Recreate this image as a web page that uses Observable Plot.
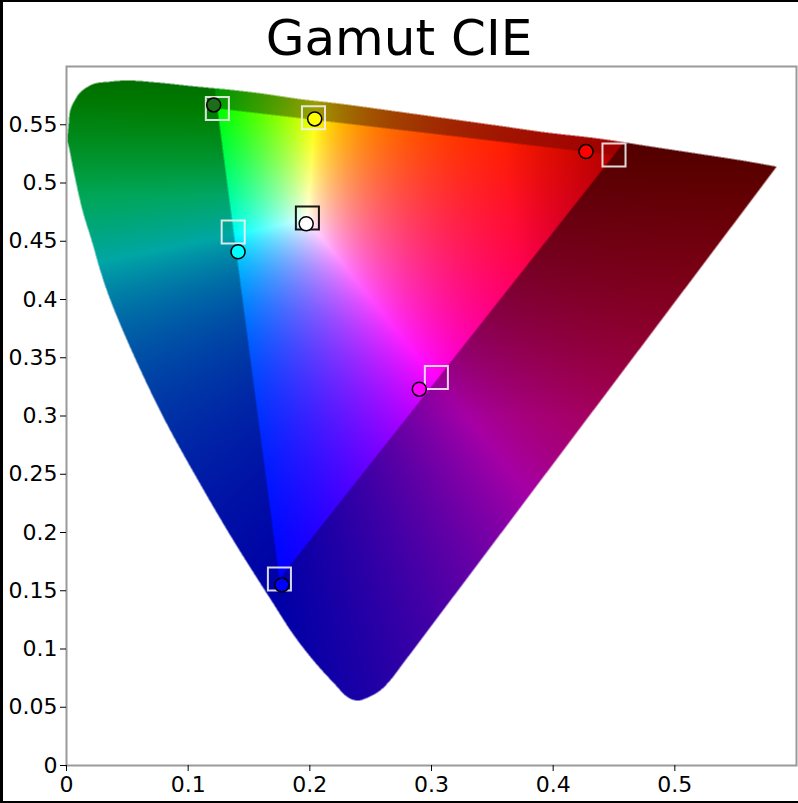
<!DOCTYPE html>
<html><head><meta charset="utf-8">
<script src="https://cdn.jsdelivr.net/npm/d3@7"></script>
<script src="https://cdn.jsdelivr.net/npm/@observablehq/plot@0.6"></script>
<style>
body{margin:0;background:#fff;}
#wrap{position:relative;width:798px;height:803px;overflow:hidden;font-family:"DejaVu Sans",Verdana,sans-serif;background:#fff;}
#title{position:absolute;left:0;top:10px;width:798px;text-align:center;font-size:50px;line-height:56px;color:#000;}
#chart{position:absolute;left:0;top:60px;}
#border{position:absolute;left:0;top:0;width:798px;height:803px;box-sizing:border-box;border-left:3px solid #000;border-top:2px solid #000;border-bottom:2px solid #000;pointer-events:none;}
</style></head><body>
<div id="wrap"><div id="title">Gamut CIE</div><div id="chart"></div><div id="border"></div></div>
<script>
// Outline of the chromaticity diagram (u', v'),
// from the bottom of the straight purple edge, round the bottom, up the left side, over the top to the right tip
const locusU = [0.2742,0.2660,0.2578,0.2496,0.2397,0.2315,0.2192,0.2036,0.1864,0.1683,0.1593,0.1371,0.1100,0.0796,0.0534,0.0361,0.0279,0.0213,0.0131,0.0057,0.0025,0.0008,0.0016,0.0033,0.0074,0.0115,0.0222,0.0361,0.0501,0.0772,0.1043,0.1346,0.1593,0.1921,0.2250,0.2742,0.3153,0.3563,0.3933,0.4384,0.4795,0.5205,0.5575,0.5837];
const locusV = [0.0842,0.0730,0.0644,0.0593,0.0558,0.0584,0.0713,0.0893,0.1125,0.1418,0.1564,0.1933,0.2414,0.2990,0.3565,0.3995,0.4244,0.4485,0.4768,0.5112,0.5284,0.5369,0.548,0.563,0.572,0.578,0.585,0.587,0.588,0.586,0.583,0.580,0.577,0.572,0.568,0.561,0.555,0.549,0.5435,0.538,0.5314,0.5249,0.5189,0.514];

// Patches: target (squares) and measured (circles)
const patchNames = ["green","yellow","red","cyan","white","magenta","blue"];
const targetU = [0.124,0.203,0.450,0.137,0.198,0.304,0.175];
const targetV = [0.564,0.556,0.524,0.458,0.470,0.333,0.160];
const targetStroke = ["#f0f0f0","#f0f0f0","#f0f0f0","#f0f0f0","#000000","#f0f0f0","#f0f0f0"];
const measuredU = [0.121,0.204,0.427,0.141,0.197,0.290,0.177];
const measuredV = [0.567,0.555,0.527,0.441,0.465,0.323,0.155];
const measuredFill = ["#1e6b1e","#ffff00","#ff0000","#00ffff","#ffffff","#ff00ff","#0000ff"];

// Axes
const xTicks = [0,0.1,0.2,0.3,0.4,0.5];
const xTickLabels = ["0","0.1","0.2","0.3","0.4","0.5"];
const yTicks = [0,0.05,0.1,0.15,0.2,0.25,0.3,0.35,0.4,0.45,0.5,0.55];
const yTickLabels = ["0","0.05","0.1","0.15","0.2","0.25","0.3","0.35","0.4","0.45","0.5","0.55"];

const targets = patchNames.map((n,i)=>({name:n,u:targetU[i],v:targetV[i],stroke:targetStroke[i]}));
const measured = patchNames.map((n,i)=>({name:n,u:measuredU[i],v:measuredV[i],fill:measuredFill[i]}));

// Smooth outline (Catmull-Rom curve through the read points; the closing purple edge is straight)
const outline = [];
(function(){
  let cx=0, cy=0;
  const ctx = {
    moveTo(x,y){outline.push([x,y]);cx=x;cy=y;},
    lineTo(x,y){outline.push([x,y]);cx=x;cy=y;},
    bezierCurveTo(x1,y1,x2,y2,x,y){
      for(let k=1;k<=12;k++){const t=k/12,s=1-t;
        outline.push([s*s*s*cx+3*s*s*t*x1+3*s*t*t*x2+t*t*t*x, s*s*s*cy+3*s*s*t*y1+3*s*t*t*y2+t*t*t*y]);}
      cx=x;cy=y;},
    closePath(){}
  };
  d3.line().x(d=>d[0]).y(d=>d[1]).curve(d3.curveCatmullRom.alpha(0.5)).context(ctx)(locusU.map((u,i)=>[u,locusV[i]]));
})();
let cacheV=NaN, cacheX=[];
function insideLocus(u,v){
  if(v!==cacheV){
    cacheV=v; cacheX=[];
    const n=outline.length;
    for(let i=0,j=n-1;i<n;j=i++){
      const a=outline[j], b=outline[i];
      if((a[1]>v)!==(b[1]>v)) cacheX.push(a[0]+(v-a[1])*(b[0]-a[0])/(b[1]-a[1]));
    }
  }
  let c=0; for(const xx of cacheX) if(xx<u) c++;
  return c%2===1;
}

const PR=[targetU[2],targetV[2]], PG=[targetU[0],targetV[0]], PB=[targetU[6],targetV[6]];
function side(a,b,p){return (b[0]-a[0])*(p[1]-a[1])-(b[1]-a[1])*(p[0]-a[0]);}
const triArea = side(PG,PB,PR);
function colorAt(u,v){
  if(!insideLocus(u,v)) return "white";
  const d=6*u-16*v+12, x=9*u/d, y=4*v/d;
  const X=x/y, Y=1, Z=(1-x-y)/y;
  let r=Math.max(0,3.2406*X-1.5372*Y-0.4986*Z);
  let g=Math.max(0,-0.9689*X+1.8758*Y+0.0415*Z);
  let b=Math.max(0,0.0557*X-0.2040*Y+1.0570*Z);
  const m=Math.max(r,g,b)||1; r/=m; g/=m; b/=m;
  let f=1;
  const p=[u,v];
  const sTop=side(PR,PG,p), sLeft=side(PG,PB,p), sRight=side(PB,PR,p);
  if(sTop<0||sLeft<0||sRight<0){
    if(sTop<0) f=Math.min(f,0.63-2.0*Math.max(0,v-0.56));
    if(sLeft<0) f=Math.min(f,0.65-2.2*Math.max(0,v-0.49));
    if(sRight<0) f=Math.min(f,0.65-1.4*Math.max(0,v-0.3));
  } else {
    const wR = sLeft/triArea; // barycentric weight of the red vertex
    f = 1 - 0.3*Math.max(0,Math.min(1,(wR-0.72)/0.28));
  }
  const R=Math.round(255*r*f), G=Math.round(255*g*f), B=Math.round(255*b*f);
  return `rgb(${R},${G},${B})`;
}

const chart = Plot.plot({
  width:798, height:743,
  marginLeft:66, marginRight:2, marginTop:6, marginBottom:38,
  x:{domain:[0,0.6], axis:null},
  y:{domain:[0,0.6], axis:null},
  color:{type:"identity"},
  style:{fontFamily:"DejaVu Sans, Verdana, sans-serif", fontSize:"22px", background:"white", color:"black", overflow:"visible"},
  marks:[
    Plot.raster({x1:0,y1:0,x2:0.6,y2:0.6, fill:colorAt, pixelSize:0.5, imageRendering:"auto"}),
    Plot.dot(targets,{x:"u",y:"v",symbol:"square",r:13,stroke:"stroke",strokeWidth:2,strokeOpacity:0.9,fill:"none"}),
    Plot.dot(measured,{x:"u",y:"v",r:7,fill:"fill",stroke:"black",strokeWidth:1.5}),
    Plot.frame({stroke:"#9a9a9a",strokeWidth:2}),
    Plot.axisX(xTicks,{label:null,tickSize:6,tickPadding:5,fontSize:22,tickFormat:d=>xTickLabels[xTicks.indexOf(d)]}),
    Plot.axisY(yTicks,{label:null,tickSize:6,tickPadding:3,fontSize:22,tickFormat:d=>yTickLabels[yTicks.indexOf(d)]})
  ]
});
document.getElementById("chart").appendChild(chart);
</script>
</body></html>
